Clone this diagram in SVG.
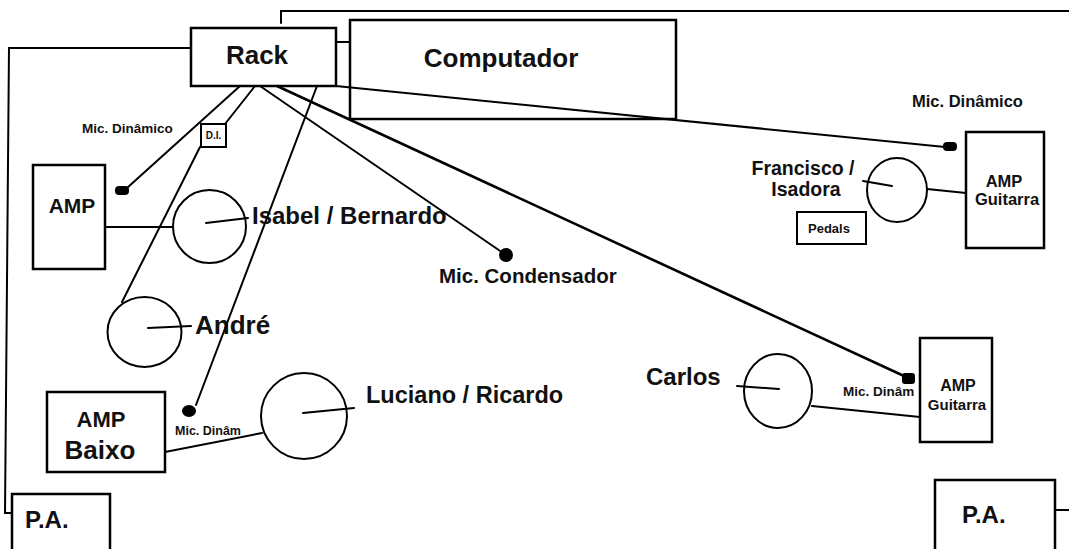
<svg xmlns="http://www.w3.org/2000/svg" width="1069" height="549" viewBox="0 0 1069 549">
<style>
.box{fill:#fff;stroke:#000;stroke-width:2.5}
.ln{fill:none;stroke:#000;stroke-width:2;stroke-linecap:round}
.mic{fill:#000}
.c{fill:none;stroke:#000;stroke-width:2}
text{font-family:"Liberation Sans",Arial,sans-serif;font-weight:bold;fill:#111}
.m{text-anchor:middle}
</style>
<rect width="1069" height="549" fill="#fff"/>
<g id="rack"><rect class="box" x="191" y="28" width="145" height="58"/><text class="m" x="257" y="64" font-size="26">Rack</text></g>
<g id="computador"><rect class="box" x="350" y="20" width="326" height="99"/><text class="m" x="501" y="67" font-size="26">Computador</text></g>
<g id="di"><rect class="box" x="201" y="124" width="25" height="23" style="stroke-width:2"/><text class="m" x="213.5" y="139" font-size="10">D.I.</text></g>
<g id="mic-left"><rect class="mic" x="115" y="186" width="14" height="9" rx="4"/><text x="82" y="133" font-size="13.5">Mic. Dinâmico</text></g>
<g id="amp-left"><rect class="box" x="33" y="165" width="72" height="104"/><text class="m" x="72" y="213" font-size="21">AMP</text></g>
<g id="isabel"><circle class="c" cx="209.5" cy="226.5" r="36.5"/><line class="ln" x1="206" y1="223" x2="248" y2="218"/><text x="252" y="224" font-size="24">Isabel / Bernardo</text></g>
<g id="andre"><ellipse class="c" cx="144.5" cy="332" rx="37" ry="35"/><line class="ln" x1="148" y1="328" x2="191" y2="326"/><text x="195" y="334" font-size="26">André</text></g>
<g id="mic-condensador"><circle class="mic" cx="506" cy="255" r="7"/><text x="439" y="283" font-size="20.5">Mic. Condensador</text></g>
<g id="amp-baixo"><rect class="box" x="47" y="392" width="118" height="80"/><text class="m" x="101" y="427" font-size="22">AMP</text><text class="m" x="100" y="459" font-size="26">Baixo</text></g>
<g id="mic-baixo"><ellipse class="mic" cx="189" cy="411" rx="7" ry="6"/><text x="175" y="435" font-size="12.5">Mic. Dinâm</text></g>
<g id="luciano"><circle class="c" cx="304" cy="416" r="43"/><line class="ln" x1="303" y1="413" x2="354" y2="408"/><text x="366" y="403" font-size="23.5">Luciano / Ricardo</text></g>
<g id="pa-left"><rect class="box" x="12" y="494" width="98" height="60"/><text x="25" y="528" font-size="24">P.A.</text></g>
<g id="pa-right"><rect class="box" x="935" y="480" width="120" height="74"/><text x="962" y="523" font-size="24">P.A.</text></g>
<g id="carlos"><ellipse class="c" cx="778" cy="391" rx="34" ry="37"/><line class="ln" x1="737" y1="386" x2="779" y2="389"/><text x="646" y="385" font-size="24">Carlos</text></g>
<g id="mic-carlos"><rect class="mic" x="902" y="373" width="13" height="11" rx="3"/><text x="843" y="396" font-size="13.5">Mic. Dinâm</text></g>
<g id="amp-guitarra-2"><rect class="box" x="920" y="338" width="72" height="104"/><text class="m" x="958" y="391" font-size="16">AMP</text><text class="m" x="957" y="410" font-size="15">Guitarra</text></g>
<g id="mic-top-right"><rect class="mic" x="943" y="142" width="14" height="9" rx="4"/><text x="912" y="107" font-size="16.5">Mic. Dinâmico</text></g>
<g id="francisco"><ellipse class="c" cx="897" cy="190" rx="30" ry="32"/><line class="ln" x1="863" y1="181" x2="892" y2="186"/><text class="m" x="803" y="175" font-size="19.5">Francisco /</text><text class="m" x="806" y="196" font-size="19.5">Isadora</text></g>
<g id="pedals"><rect class="box" x="797" y="212" width="69" height="32" style="stroke-width:2"/><text class="m" x="829" y="233" font-size="13">Pedals</text></g>
<g id="amp-guitarra-1"><rect class="box" x="966" y="132" width="78" height="116"/><text class="m" x="1004" y="187" font-size="16.5">AMP</text><text class="m" x="1007" y="205" font-size="16.5">Guitarra</text></g>
<g id="connectors">
<polyline class="ln" points="191,48 9,48 5,513 12,513"/>
<polyline class="ln" points="281,23 281,11 1069,11"/>
<line class="ln" x1="336" y1="42" x2="350" y2="42"/>
<line class="ln" x1="1055" y1="510" x2="1069" y2="510"/>
<line class="ln" x1="240" y1="86" x2="127" y2="188"/>
<line class="ln" x1="255" y1="86" x2="225" y2="124"/>
<line class="ln" x1="200" y1="147" x2="122" y2="302"/>
<line class="ln" x1="260" y1="86" x2="506" y2="255"/>
<line class="ln" x1="277" y1="86" x2="904" y2="376" style="stroke-width:2.6"/>
<line class="ln" x1="317" y1="86" x2="196" y2="405"/>
<line class="ln" x1="336" y1="86" x2="945" y2="147"/>
<line class="ln" x1="105" y1="227" x2="173" y2="227"/>
<line class="ln" x1="165" y1="452" x2="262" y2="433"/>
<line class="ln" x1="812" y1="406" x2="920" y2="417"/>
<line class="ln" x1="927" y1="189" x2="966" y2="193"/>
</g>
</svg>
